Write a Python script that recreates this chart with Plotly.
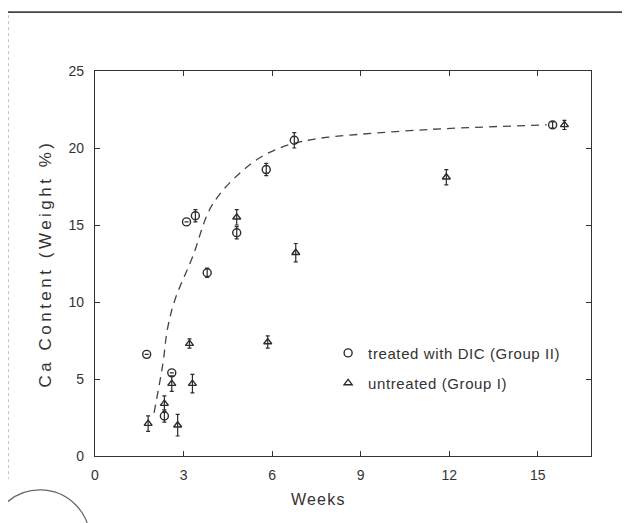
import plotly.graph_objects as go

# ---- data ----
treated_weeks = [1.75, 2.35, 2.6, 3.1, 3.4, 3.8, 4.8, 5.8, 6.75, 15.5]
treated_ca = [6.6, 2.6, 5.4, 15.2, 15.6, 11.9, 14.5, 18.6, 20.5, 21.5]
treated_err = [0, 0.4, 0, 0, 0.4, 0.3, 0.4, 0.4, 0.5, 0.2]

untreated_weeks = [1.8, 2.35, 2.6, 2.8, 3.2, 3.3, 4.8, 5.85, 6.8, 11.9, 15.9]
untreated_ca = [2.1, 3.4, 4.7, 2.0, 7.3, 4.7, 15.5, 7.4, 13.2, 18.1, 21.5]
untreated_err = [0.5, 0.5, 0.5, 0.7, 0.3, 0.6, 0.5, 0.4, 0.6, 0.5, 0.3]

fit_weeks = [2.0, 2.3, 2.45, 2.7, 3.3, 4.0, 5.3, 6.25, 7.2, 7.9, 11.3, 15.3]
fit_ca = [2.8, 6.0, 8.2, 10.1, 12.9, 16.4, 19.0, 20.0, 20.5, 20.7, 21.2, 21.5]

x_ticks = [0, 3, 6, 9, 12, 15]
y_ticks = [0, 5, 10, 15, 20, 25]

INK = "#2b2b2b"
TXT = "#333"
FONT = "Liberation Sans, Arial, Helvetica, sans-serif"


def spaced(text, px):
    return f'<span style="letter-spacing:{px}px">{text}</span>'


fig = go.Figure()

fig.add_trace(go.Scatter(
    x=fit_weeks, y=fit_ca, mode="lines", line_shape="spline",
    line=dict(color="#444", width=1.3, dash="8px,6px"),
    showlegend=False, hoverinfo="skip"))

fig.add_trace(go.Scatter(
    x=treated_weeks, y=treated_ca, mode="markers",
    name=spaced("treated with DIC (Group II)", 0.6),
    marker=dict(symbol="circle-open", size=8, color=INK, line=dict(width=1.4)),
    error_y=dict(type="data", array=treated_err, color=INK, thickness=1.2, width=2),
    legend="legend"))

fig.add_trace(go.Scatter(
    x=untreated_weeks, y=untreated_ca, mode="markers",
    name=spaced("untreated (Group I)", 0.6),
    marker=dict(symbol="triangle-up-open", size=7, color=INK, line=dict(width=1.4)),
    error_y=dict(type="data", array=untreated_err, color=INK, thickness=1.2, width=2),
    legend="legend2"))

axis_common = dict(
    showline=True, linecolor="#333", linewidth=1.3, mirror="ticks",
    ticks="inside", ticklen=5, tickcolor="#333", tickwidth=1.2,
    showgrid=False, zeroline=False,
    tickfont=dict(family=FONT, size=14, color=TXT),
)

fig.update_layout(
    width=630, height=523,
    margin=dict(l=87, r=47, t=63, b=75),
    paper_bgcolor="white", plot_bgcolor="white",
    font=dict(family=FONT, size=14, color=TXT),
    xaxis=dict(range=[0, 16.8], tickvals=x_ticks, ticklabelstandoff=6, **axis_common),
    yaxis=dict(range=[0, 25], tickvals=y_ticks, ticklabelstandoff=7, **axis_common,
               title=dict(text=spaced("Ca Content (Weight %)", 3.5),
                          font=dict(family=FONT, size=17, color=TXT), standoff=12)),
    annotations=[
        dict(text=spaced("Weeks", 1.2), xref="paper", yref="paper",
             x=0.45, y=-0.114, xanchor="center", yanchor="middle",
             showarrow=False, font=dict(family=FONT, size=16, color=TXT)),
    ],
    legend=dict(x=0.47, y=0.31, xanchor="left", yanchor="top",
                bgcolor="rgba(0,0,0,0)", itemwidth=30,
                font=dict(family=FONT, size=15, color=TXT)),
    legend2=dict(x=0.47, y=0.232, xanchor="left", yanchor="top",
                 bgcolor="rgba(0,0,0,0)", itemwidth=30,
                 font=dict(family=FONT, size=15, color=TXT)),
    shapes=[
        dict(type="line", xref="paper", yref="paper", x0=-0.2, x1=1.1,
             y0=1.153, y1=1.153, line=dict(color="#444", width=1.6)),
        dict(type="line", xref="paper", yref="paper", x0=-0.175, x1=-0.175,
             y0=1.145, y1=-0.06, line=dict(color="#aaa", width=1, dash="dot")),
        dict(type="circle", xref="paper", yref="paper", x0=-0.212, x1=-0.01,
             y0=-0.348, y1=-0.088, line=dict(color="#666", width=1.2)),
    ],
)

fig.write_html("out.html")
